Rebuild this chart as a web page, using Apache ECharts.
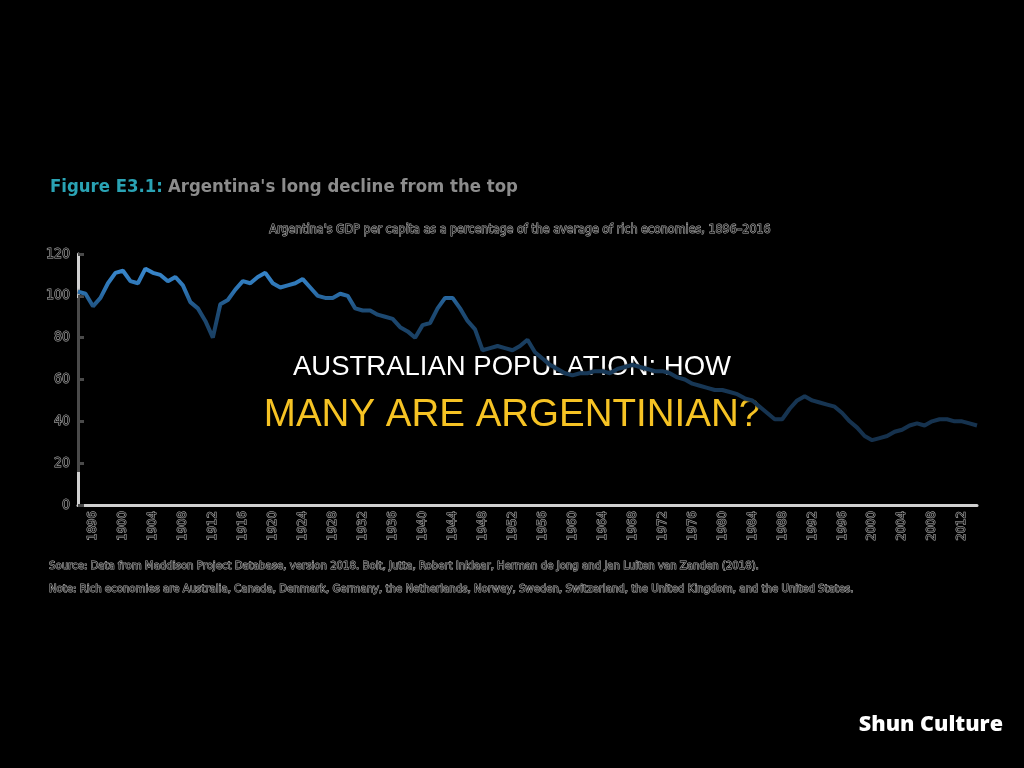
<!DOCTYPE html>
<html>
<head>
<meta charset="utf-8">
<title>Argentina's long decline from the top</title>
<script src="https://cdn.jsdelivr.net/npm/echarts@6/dist/echarts.min.js"></script>
<style>
html, body { margin: 0; padding: 0; background: #000; }
#chart { width: 1024px; height: 768px; }
</style>
</head>
<body>
<div id="chart"></div>
<script>
// Argentina GDP per capita as % of the average of rich economies
var years = [];
for (var y = 1896; y <= 2016; y++) { years.push(y); }
var gdpShare = [
	102, 101, 95, 99, 106, 111, 112, 107, 106, 113,
	111, 110, 107, 109, 105, 97, 94, 88, 80, 96,
	98, 103, 107, 106, 109, 111, 106, 104, 105, 106,
	108, 104, 100, 99, 99, 101, 100, 94, 93, 93,
	91, 90, 89, 85, 83, 80, 86, 87, 94, 99,
	99, 94, 88, 84, 74, 75, 76, 75, 74, 76,
	79, 73, 70, 67, 65, 63, 62, 63, 63, 64,
	64, 63, 65, 66, 67, 66, 65, 64, 64, 63,
	61, 60, 58, 57, 56, 55, 55, 54, 53, 51,
	50, 47, 44, 41, 41, 46, 50, 52, 50, 49,
	48, 47, 44, 40, 37, 33, 31, 32, 33, 35,
	36, 38, 39, 38, 40, 41, 41, 40, 40, 39,
	38
];
// four-year tick labels
var tickLabels = [];
for (var t = 1896; t <= 2012; t += 4) { tickLabels.push(String(t)); }
var yTicks = [0, 20, 40, 60, 80, 100, 120];

var titleText = "Argentina's long decline from the top";
var subText = "Argentina's GDP per capita as a percentage of the average of rich economies, 1896\u20132016";
var sourceText = "Source: Data from Maddison Project Database, version 2018. Bolt, Jutta, Robert Inklaar, Herman de Jong and Jan Luiten van Zanden (2018).";
var noteText = "Note: Rich economies are Australia, Canada, Denmark, Germany, the Netherlands, Norway, Sweden, Switzerland, the United Kingdom, and the United States.";

var narrow = "'Liberation Sans Narrow', 'DejaVu Sans Condensed', sans-serif";

function pairs() {
	var out = [];
	for (var i = 0; i < years.length; i++) {
		out.push([years[i], gdpShare[i]]);
	}
	return out;
}

var ghostText = {
	color: '#1a1a1a',
	textBorderColor: '#b5b5b5',
	textBorderWidth: 1,
	fontFamily: narrow
};

function drawChart() {
	var myChart = echarts.init(document.getElementById('chart'));
	var option = {
		backgroundColor: '#000',
		animation: false,
		title: [{
			text: '{a|Figure E3.1:} {b|' + titleText + '}',
			left: 45,
			top: 173,
			textStyle: {
				rich: {
					a: { color: '#2aa3b4', fontSize: 18.4, fontWeight: 'bold', fontFamily: narrow },
					b: { color: '#8c8c8c', fontSize: 18.4, fontWeight: 'bold', fontFamily: narrow }
				}
			}
		}, {
			text: subText,
			left: 515,
			textAlign: 'center',
			top: 219,
			textStyle: Object.assign({ fontSize: 12.4, fontWeight: 'normal' }, ghostText)
		}, {
			text: sourceText,
			left: 44,
			top: 556,
			textStyle: Object.assign({ fontSize: 11.3, fontWeight: 'normal' }, ghostText)
		}, {
			text: noteText,
			left: 44,
			top: 579,
			textStyle: Object.assign({ fontSize: 11.3, fontWeight: 'normal' }, ghostText)
		}],
		grid: { left: 78, right: 47, top: 254, bottom: 263 },
		xAxis: [{
			type: 'category',
			data: tickLabels,
			boundaryGap: true,
			axisLine: { lineStyle: { color: '#d0d0d0', width: 3 } },
			axisTick: { inside: true, length: 6, lineStyle: { color: '#d0d0d0', width: 3 } },
			axisLabel: Object.assign({ rotate: 90, fontSize: 13, margin: 6, interval: 0 }, ghostText),
			splitLine: { show: false }
		}, {
			type: 'value',
			min: 1896,
			max: 2016,
			show: false,
			splitLine: { show: false }
		}],
		yAxis: {
			type: 'value',
			min: yTicks[0],
			max: yTicks[yTicks.length - 1],
			interval: 20,
			axisLine: {
				show: true,
				lineStyle: {
					width: 3,
					color: new echarts.graphic.LinearGradient(0, 0, 0, 1, [
						{ offset: 0, color: '#d0d0d0' },
						{ offset: 0.18, color: '#d0d0d0' },
						{ offset: 0.18, color: '#4a4a4a' },
						{ offset: 0.86, color: '#4a4a4a' },
						{ offset: 0.86, color: '#d0d0d0' },
						{ offset: 1, color: '#d0d0d0' }
					])
				}
			},
			axisTick: { show: true, inside: true, length: 6, lineStyle: { color: '#4a4a4a', width: 3 } },
			axisLabel: Object.assign({ fontSize: 14, margin: 8 }, ghostText),
			splitLine: { show: false }
		},
		series: [{
			type: 'line',
			xAxisIndex: 1,
			data: pairs(),
			symbol: 'none',
			smooth: false,
			lineStyle: {
				width: 4,
				color: new echarts.graphic.LinearGradient(0, 0, 0, 1, [
					{ offset: 0, color: '#3a8ad0' },
					{ offset: 0.14, color: '#2c72b0' },
					{ offset: 0.26, color: '#1d4a73' },
					{ offset: 0.5, color: '#183a5a' },
					{ offset: 1, color: '#15304b' }
				]),
				shadowColor: 'rgba(0,0,0,0.9)',
				shadowBlur: 2
			}
		}],
		graphic: [{
			type: 'text',
			left: 'center',
			top: 353,
			style: {
				text: 'AUSTRALIAN POPULATION: HOW',
				fill: '#ffffff',
				font: '27.5px "Liberation Sans", Arial, sans-serif'
			}
		}, {
			type: 'text',
			left: 'center',
			top: 396,
			style: {
				text: 'MANY ARE ARGENTINIAN?',
				fill: '#f6c324',
				font: '38.5px "Liberation Sans", Arial, sans-serif'
			}
		}, {
			type: 'text',
			right: 21,
			top: 714,
			style: {
				text: 'Shun Culture',
				fill: '#ffffff',
				font: '800 21.5px "Open Sans", Lato, sans-serif'
			}
		}]
	};
	myChart.setOption(option);
}

drawChart();
</script>
</body>
</html>
